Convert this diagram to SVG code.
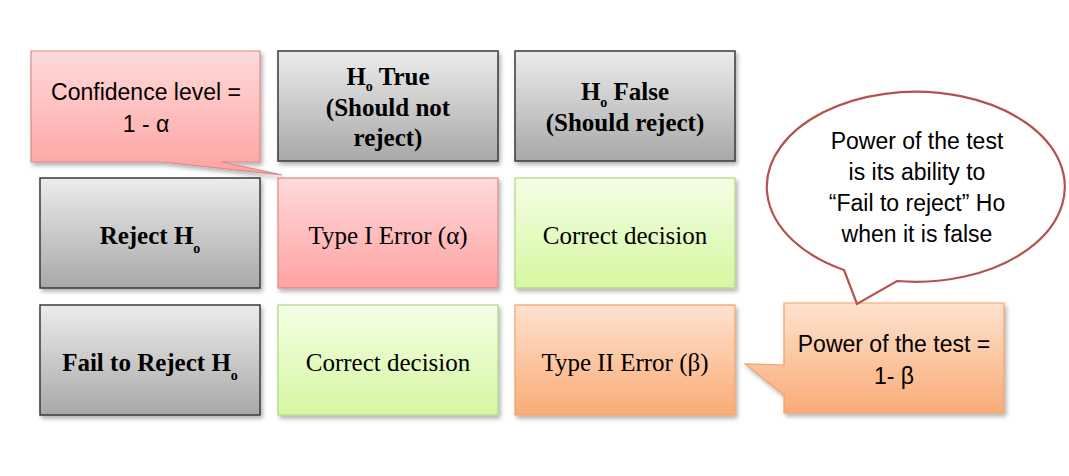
<svg xmlns="http://www.w3.org/2000/svg" width="1069" height="476" viewBox="0 0 1069 476">
<defs>
<linearGradient id="gGray" x1="0" y1="0" x2="0" y2="1"><stop offset="0" stop-color="#ececec"/><stop offset="1" stop-color="#a8a8a8"/></linearGradient>
<linearGradient id="gPink" x1="0" y1="0" x2="0" y2="1"><stop offset="0" stop-color="#ffdada"/><stop offset="1" stop-color="#ffa2a2"/></linearGradient>
<linearGradient id="gGreen" x1="0" y1="0" x2="0" y2="1"><stop offset="0" stop-color="#f4ffe6"/><stop offset="1" stop-color="#d5f7a0"/></linearGradient>
<linearGradient id="gOrange" x1="0" y1="0" x2="0" y2="1"><stop offset="0" stop-color="#ffe2cf"/><stop offset="1" stop-color="#f9ab76"/></linearGradient>
<filter id="sh" x="-10%" y="-10%" width="120%" height="130%"><feDropShadow dx="2" dy="3" stdDeviation="2" flood-color="#000" flood-opacity="0.3"/></filter>
</defs>
<style>
.gray{fill:url(#gGray);stroke:#3a3a3a;stroke-width:1.5;filter:url(#sh)}
.pink{fill:url(#gPink);stroke:#d98a8a;stroke-width:1.2;filter:url(#sh)}
.green{fill:url(#gGreen);stroke:#b2d488;stroke-width:1.2;filter:url(#sh)}
.orange{fill:url(#gOrange);stroke:#f2a266;stroke-width:1.2;filter:url(#sh)}
.hd{font-family:"Liberation Serif","Times New Roman",serif;font-weight:bold;font-size:25px;fill:#000;text-anchor:middle}
.tx{font-family:"Liberation Serif","Times New Roman",serif;font-size:25px;fill:#000;text-anchor:middle}
.sn{font-family:"Liberation Sans",Arial,sans-serif;font-size:23px;fill:#000;text-anchor:middle}
.sub{font-size:14px}
</style>
<rect width="1069" height="476" fill="#fff"/>

<g id="confidence-callout">
<path class="pink" d="M31,51 H260 V162 H222 L282,175 L163,162 H31 Z"/>
<text class="sn" x="146" y="100">Confidence level =</text>
<text class="sn" x="146" y="132">1 - α</text>
</g>

<g id="h0-true">
<rect class="gray" x="278" y="51" width="220" height="110"/>
<text class="hd" x="388" y="85">H<tspan class="sub" dy="6">o</tspan><tspan dy="-6"> True</tspan></text>
<text class="hd" x="388" y="116">(Should not</text>
<text class="hd" x="388" y="146">reject)</text>
</g>

<g id="h0-false">
<rect class="gray" x="515" y="51" width="220" height="110"/>
<text class="hd" x="625" y="100">H<tspan class="sub" dy="7">o</tspan><tspan dy="-7"> False</tspan></text>
<text class="hd" x="625" y="131">(Should reject)</text>
</g>

<g id="reject-h0">
<rect class="gray" x="40" y="178" width="220" height="110"/>
<text class="hd" x="150" y="244">Reject H<tspan class="sub" dy="9">o</tspan></text>
</g>

<g id="type1-error">
<rect class="pink" x="278" y="178" width="220" height="110"/>
<text class="tx" x="388" y="244">Type I Error (α)</text>
</g>

<g id="correct-decision-1">
<rect class="green" x="515" y="178" width="220" height="110"/>
<text class="tx" x="625" y="244">Correct decision</text>
</g>

<g id="fail-to-reject-h0">
<rect class="gray" x="40" y="305" width="220" height="110"/>
<text class="hd" x="150" y="371">Fail to Reject H<tspan class="sub" dy="9">o</tspan></text>
</g>

<g id="correct-decision-2">
<rect class="green" x="278" y="305" width="220" height="110"/>
<text class="tx" x="388" y="371">Correct decision</text>
</g>

<g id="type2-error">
<rect class="orange" x="515" y="305" width="220" height="110"/>
<text class="tx" x="625" y="371">Type II Error (β)</text>
</g>

<g id="power-callout">
<path class="orange" d="M784,303 H1004 V413 H784 V395 L745,364 L784,365 Z"/>
<text class="sn" x="894" y="352">Power of the test =</text>
<text class="sn" x="894" y="384">1- β</text>
</g>

<g id="power-bubble">
<path d="M844,270 L857,304 L897,281 A149,95 0 1 0 844,270 Z" fill="#fff" stroke="#b5524f" stroke-width="2.2"/>
<text class="sn" x="917" y="149">Power of the test</text>
<text class="sn" x="917" y="180">is its ability to</text>
<text class="sn" x="917" y="211">“Fail to reject” Ho</text>
<text class="sn" x="917" y="242">when it is false</text>
</g>
</svg>
